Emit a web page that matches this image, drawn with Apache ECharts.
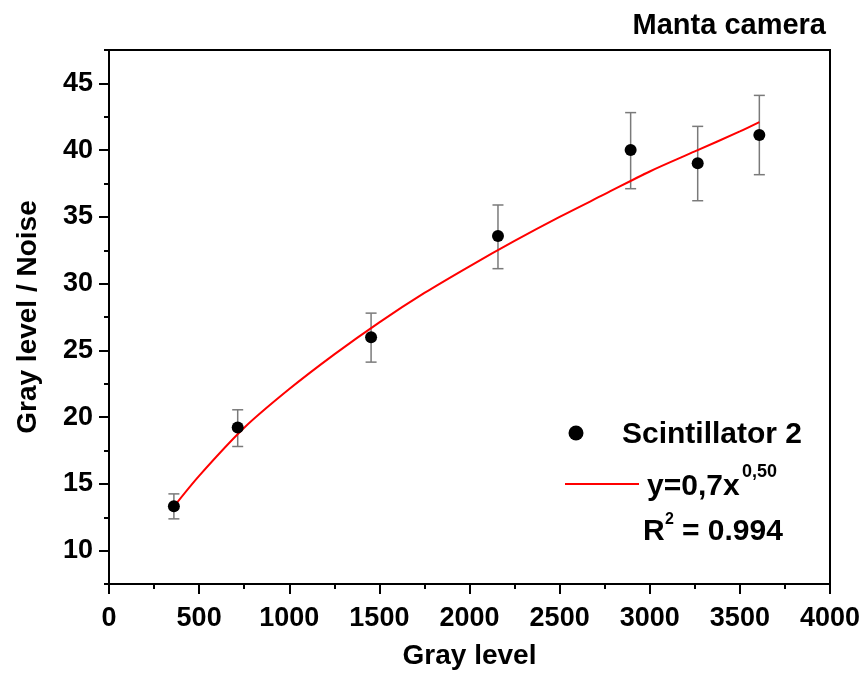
<!DOCTYPE html>
<html>
<head>
<meta charset="utf-8">
<script src="https://cdn.jsdelivr.net/npm/echarts@6/dist/echarts.min.js"></script>
<style>html,body{margin:0;padding:0;background:#fff;}#c{width:868px;height:688px;}</style>
</head>
<body>
<div id="c"></div>
<script>
// Measured points (Scintillator 2)
var grayLevel = [360, 714, 1454, 2158, 2894, 3266, 3608];
var snr       = [13.33, 19.22, 25.99, 33.56, 40.01, 39.01, 41.13];
var errLow    = [12.38, 17.80, 24.12, 31.12, 37.11, 36.21, 38.16];
var errHigh   = [14.25, 20.55, 27.79, 35.89, 42.81, 41.78, 44.10];

// Fit curve
var fitX = [360, 500, 750, 1000, 1250, 1500, 1750, 2000, 2250, 2500, 2750, 3000, 3250, 3500, 3608];
var fitY = [13.3, 15.6, 19.2, 22.1, 24.7, 27.1, 29.3, 31.3, 33.2, 35.0, 36.7, 38.4, 39.9, 41.4, 42.1];

// Tick values
var yMajorTicks = [10, 15, 20, 25, 30, 35, 40, 45];
var yMinorTicks = [7.5, 12.5, 17.5, 22.5, 27.5, 32.5, 37.5, 42.5, 47.5];

var FONT = '"Liberation Sans", Arial, sans-serif';

var pts = grayLevel.map(function (x, i) { return [x, snr[i]]; });
var errs = grayLevel.map(function (x, i) { return [x, errLow[i], errHigh[i]]; });
var fit = fitX.map(function (x, i) { return [x, fitY[i]]; });

var chart = echarts.init(document.getElementById('c'), null, {renderer: 'canvas'});
chart.setOption({
  backgroundColor: '#fff',
  animation: false,
  title: {
    text: 'Manta camera',
    right: 37, top: 6,
    textStyle: {fontFamily: FONT, fontWeight: 'bold', fontSize: 29, color: '#000'}
  },
  grid: {
    left: 109, right: 38, top: 50, bottom: 104,
    show: true, borderColor: '#000', borderWidth: 2, backgroundColor: 'transparent'
  },
  xAxis: {
    type: 'value', min: 0, max: 4000, interval: 500,
    name: 'Gray level', nameLocation: 'middle', nameGap: 58,
    nameTextStyle: {fontFamily: FONT, fontWeight: 'bold', fontSize: 28, color: '#000'},
    axisLine: {show: true, onZero: false, lineStyle: {color: '#000', width: 2}},
    axisTick: {show: true, inside: false, length: 10, lineStyle: {color: '#000', width: 2}},
    minorTick: {show: true, splitNumber: 2, length: 5, lineStyle: {color: '#000', width: 2}},
    splitLine: {show: false},
    minorSplitLine: {show: false},
    axisLabel: {fontFamily: FONT, fontWeight: 'bold', fontSize: 27, color: '#000', margin: 21,
      formatter: function (v) { return String(v); }}
  },
  yAxis: [{
    type: 'value', min: 7.5, max: 47.5,
    name: 'Gray level / Noise', nameLocation: 'middle', nameGap: 67,
    nameTextStyle: {fontFamily: FONT, fontWeight: 'bold', fontSize: 28, color: '#000'},
    axisLine: {show: true, onZero: false, lineStyle: {color: '#000', width: 2}},
    axisTick: {show: true, length: 10, customValues: yMajorTicks, lineStyle: {color: '#000', width: 2}},
    splitLine: {show: false},
    axisLabel: {fontFamily: FONT, fontWeight: 'bold', fontSize: 27, color: '#000', margin: 16, customValues: yMajorTicks}
  }, {
    type: 'value', min: 7.5, max: 47.5, position: 'left', offset: 0,
    axisLine: {show: false},
    axisTick: {show: true, length: 5, customValues: yMinorTicks, lineStyle: {color: '#000', width: 2}},
    axisLabel: {show: false},
    splitLine: {show: false}
  }],
  series: [{
    type: 'custom',
    name: 'err',
    data: errs,
    z: 2,
    renderItem: function (params, api) {
      var x = api.value(0);
      var lo = api.coord([x, api.value(1)]);
      var hi = api.coord([x, api.value(2)]);
      var w = 5.5;
      var st = {stroke: '#7a7a7a', lineWidth: 1.5, fill: null};
      return {
        type: 'group',
        children: [
          {type: 'line', shape: {x1: lo[0], y1: lo[1], x2: hi[0], y2: hi[1]}, style: st},
          {type: 'line', shape: {x1: lo[0] - w, y1: lo[1], x2: lo[0] + w, y2: lo[1]}, style: st},
          {type: 'line', shape: {x1: hi[0] - w, y1: hi[1], x2: hi[0] + w, y2: hi[1]}, style: st}
        ]
      };
    }
  }, {
    type: 'line',
    name: 'fit',
    data: fit,
    smooth: 0.3,
    showSymbol: false,
    symbol: 'none',
    z: 3,
    lineStyle: {color: '#ff0000', width: 2}
  }, {
    type: 'scatter',
    name: 'Scintillator 2',
    data: pts,
    symbol: 'circle',
    symbolSize: 12,
    z: 4,
    itemStyle: {color: '#000', opacity: 1}
  }],
  graphic: [
    {type: 'circle', shape: {cx: 576, cy: 433, r: 7.5}, style: {fill: '#000'}},
    {type: 'text', x: 622, y: 435, style: {text: 'Scintillator 2', fontFamily: FONT, fontWeight: 'bold', fontSize: 30, fill: '#000', verticalAlign: 'middle', align: 'left'}},
    {type: 'line', shape: {x1: 565, y1: 484, x2: 639, y2: 484}, style: {stroke: '#ff0000', lineWidth: 2}},
    {type: 'text', x: 647, y: 487, style: {text: 'y=0,7x', fontFamily: FONT, fontWeight: 'bold', fontSize: 30, fill: '#000', verticalAlign: 'middle', align: 'left'}},
    {type: 'text', x: 742, y: 472, style: {text: '0,50', fontFamily: FONT, fontWeight: 'bold', fontSize: 18, fill: '#000', verticalAlign: 'middle', align: 'left'}},
    {type: 'text', x: 643, y: 532, style: {text: 'R', fontFamily: FONT, fontWeight: 'bold', fontSize: 30, fill: '#000', verticalAlign: 'middle', align: 'left'}},
    {type: 'text', x: 665, y: 520, style: {text: '2', fontFamily: FONT, fontWeight: 'bold', fontSize: 16, fill: '#000', verticalAlign: 'middle', align: 'left'}},
    {type: 'text', x: 682, y: 532, style: {text: '= 0.994', fontFamily: FONT, fontWeight: 'bold', fontSize: 30, fill: '#000', verticalAlign: 'middle', align: 'left'}}
  ]
});
</script>
</body>
</html>
